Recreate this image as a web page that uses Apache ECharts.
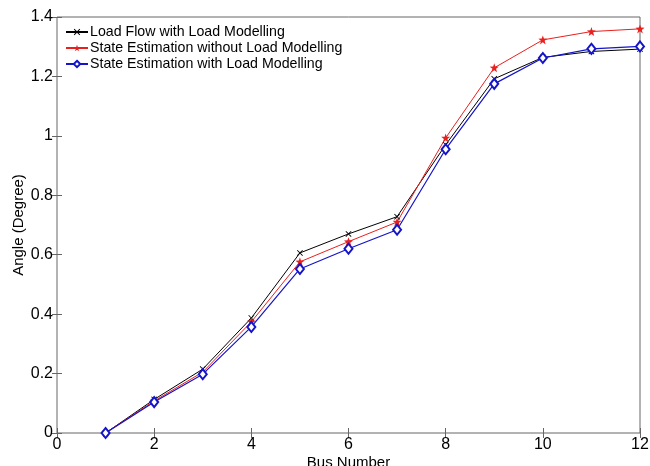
<!DOCTYPE html>
<html>
<head>
  <meta charset="utf-8">
  <title>Bus Angle</title>
</head>
<body style="margin: 0; background: #fff">
  <div id="chart_div" style="width: 650px; height: 466px;"></div>
  <script src="https://cdn.jsdelivr.net/npm/echarts@6/dist/echarts.min.js"></script>
  <script>
    var buses = [1, 2, 3, 4, 5, 6, 7, 8, 9, 10, 11, 12];
    var loadFlow = [0, 0.113, 0.215, 0.387, 0.606, 0.670, 0.728, 0.970, 1.192, 1.264, 1.284, 1.292];
    var seNoLoad = [0, 0.108, 0.205, 0.374, 0.576, 0.644, 0.710, 0.993, 1.229, 1.323, 1.351, 1.360];
    var seLoad = [0, 0.104, 0.198, 0.357, 0.552, 0.620, 0.684, 0.955, 1.175, 1.262, 1.293, 1.301];
    var names = ['Load Flow with Load Modelling', 'State Estimation without Load Modelling', 'State Estimation with Load Modelling'];

    function pairs(arr) {
      return arr.map(function (v, i) { return [buses[i], v]; });
    }

    var crossPath = 'path://M0,1L1,0L5,4L9,0L10,1L6,5L10,9L9,10L5,6L1,10L0,9L4,5Z';
    var starPath = 'path://M5,0L6.2,3.4L10,3.5L7,5.8L8.1,9.5L5,7.3L1.9,9.5L3,5.8L0,3.5L3.8,3.4Z';

    var txt = { color: '#000', fontFamily: 'Liberation Sans, Arial, sans-serif' };
    var myChart = echarts.init(document.getElementById('chart_div'), null, { renderer: 'canvas' });

    var option = {
      backgroundColor: '#fff',
      animation: false,
      grid: {
        left: 57, right: 10, top: 17, bottom: 33,
        outerBoundsMode: 'none', containLabel: false,
        show: true, borderColor: '#666', borderWidth: 1
      },
      legend: {
        orient: 'vertical',
        left: 60,
        top: 20,
        itemGap: 2,
        itemWidth: 22,
        itemHeight: 8,
        textStyle: { color: '#000', fontSize: 14.2, fontFamily: 'Liberation Sans, Arial, sans-serif', padding: [0, 0, 0, -3] },
        data: names
      },
      xAxis: [{
        type: 'value', min: 0, max: 12, interval: 2,
        name: 'Bus Number', nameLocation: 'middle', nameGap: 22, nameMoveOverlap: false,
        nameTextStyle: Object.assign({ fontSize: 15 }, txt),
        axisLine: { show: false },
        axisTick: { inside: true, length: 5, lineStyle: { color: '#666' } },
        axisLabel: Object.assign({ fontSize: 16, margin: 4 }, txt),
        splitLine: { show: false }
      }, {
        type: 'value', min: 0, max: 12, interval: 2, position: 'top',
        axisLine: { show: false },
        axisTick: { inside: true, length: 5, lineStyle: { color: '#666' } },
        axisLabel: { show: false },
        splitLine: { show: false }
      }],
      yAxis: [{
        type: 'value', min: 0, max: 1.4, interval: 0.2,
        name: 'Angle (Degree)', nameLocation: 'middle', nameGap: 31, nameMoveOverlap: false,
        nameTextStyle: Object.assign({ fontSize: 15 }, txt),
        axisLine: { show: false },
        axisTick: { show: true, inside: true, length: 5, lineStyle: { color: '#666' } },
        axisLabel: Object.assign({ fontSize: 16, margin: 4, formatter: function (v) { return +v.toFixed(1) + ''; } }, txt),
        splitLine: { show: false }
      }, {
        type: 'value', min: 0, max: 1.4, interval: 0.2, position: 'right',
        axisLine: { show: false },
        axisTick: { show: true, inside: true, length: 5, lineStyle: { color: '#666' } },
        axisLabel: { show: false },
        splitLine: { show: false }
      }],
      series: [
        {
          name: names[0], type: 'line', data: pairs(loadFlow),
          symbol: crossPath, symbolSize: 6,
          lineStyle: { color: '#000', width: 1 },
          itemStyle: { color: '#000' }
        },
        {
          name: names[1], type: 'line', data: pairs(seNoLoad),
          symbol: starPath, symbolSize: 9,
          lineStyle: { color: '#e8201e', width: 1 },
          itemStyle: { color: '#e8201e' }
        },
        {
          name: names[2], type: 'line', data: pairs(seLoad),
          symbol: 'emptyDiamond', symbolSize: [8, 10],
          lineStyle: { color: '#1414c8', width: 1.2 },
          itemStyle: { color: '#1414c8', borderWidth: 1.2 }
        }
      ]
    };
    myChart.setOption(option);
  </script>
</body>
</html>
